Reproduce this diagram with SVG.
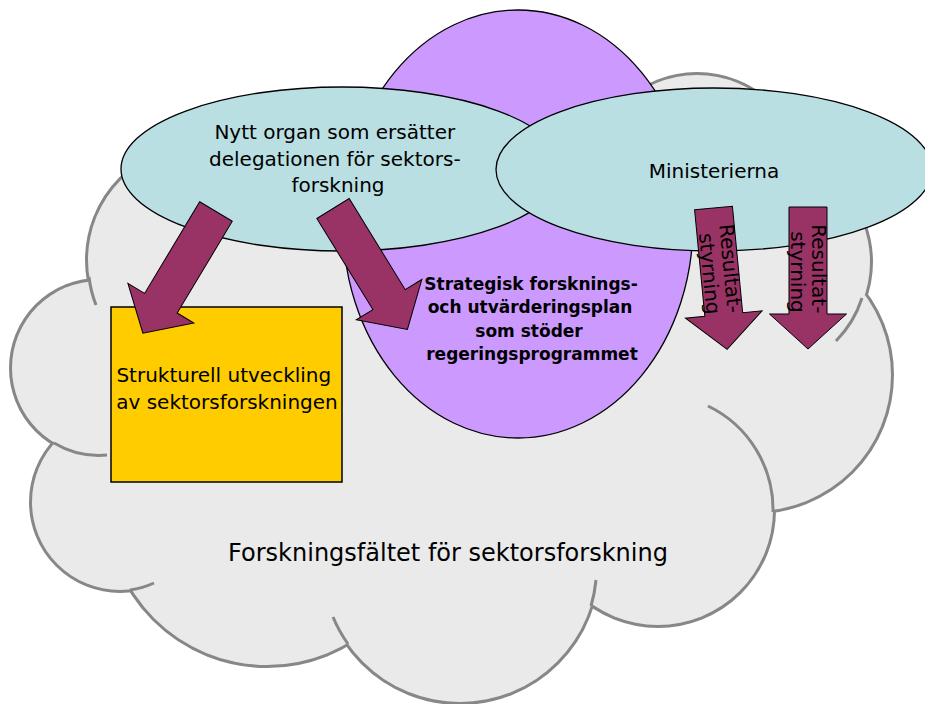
<svg xmlns="http://www.w3.org/2000/svg" width="925" height="704" viewBox="0 0 925 704">
<defs>
<style>
.t{font-family:"DejaVu Sans","Liberation Sans",sans-serif;fill:#000}
.b{font-weight:bold}
.cs{fill:#EAEAEA;stroke:#878787;stroke-width:6}
.cf{fill:#EAEAEA}
.tail{fill:none;stroke:#878787;stroke-width:3}
.el{stroke:#000;stroke-width:1.3}
.arr{fill:#993366;stroke:#000;stroke-width:1}
</style>
<path id="arrow" class="arr" d="M-19,0 L19,0 L19,107 L38.5,107 L0,142 L-38.5,107 L-19,107 Z"/>
</defs>
<rect width="925" height="704" fill="#fff"/>
<g id="cloud">
<circle class="cs" cx="202" cy="260" r="114"/>
<circle class="cs" cx="99" cy="368" r="87"/>
<circle class="cs" cx="120" cy="502" r="88"/>
<circle class="cs" cx="267" cy="506" r="159"/>
<circle class="cs" cx="460" cy="565" r="137"/>
<circle class="cs" cx="658" cy="510" r="115"/>
<circle class="cs" cx="755" cy="375" r="136"/>
<circle class="cs" cx="762" cy="262" r="108"/>
<circle class="cs" cx="697" cy="181" r="106"/>
<circle class="cf" cx="202" cy="260" r="114"/>
<circle class="cf" cx="99" cy="368" r="87"/>
<circle class="cf" cx="120" cy="502" r="88"/>
<circle class="cf" cx="267" cy="506" r="159"/>
<circle class="cf" cx="460" cy="565" r="137"/>
<circle class="cf" cx="658" cy="510" r="115"/>
<circle class="cf" cx="755" cy="375" r="136"/>
<circle class="cf" cx="762" cy="262" r="108"/>
<circle class="cf" cx="697" cy="181" r="106"/>
<polygon class="cf" points="202,260 99,368 120,502 267,506 460,565 658,510 755,375 762,262 697,181 520,175"/>
<path class="tail" d="M89,277 A114 114 0 0 0 96,305"/>
<path class="tail" d="M54,443 A87 87 0 0 0 107,455"/>
<path class="tail" d="M130,590 A88 88 0 0 0 154,583"/>
<path class="tail" d="M333,617 A137 137 0 0 0 348,644"/>
<path class="tail" d="M591,606 A137 137 0 0 0 596,580"/>
<path class="tail" d="M708,406 A115 115 0 0 1 773,512"/>
<path class="tail" d="M862,298 A108 108 0 0 1 836,341"/>
<text class="t" x="448" y="561" font-size="24" text-anchor="middle">Forskningsfältet för sektorsforskning</text>
</g>
<g id="plan">
<ellipse class="el" cx="518" cy="224" rx="175" ry="214" fill="#CC99FF"/>
<text class="t b" font-size="17" text-anchor="middle">
<tspan x="534" y="289.5">Strategisk forsknings-</tspan>
<tspan x="533" y="313">och utvärderingsplan</tspan>
<tspan x="532" y="336.5">som stöder</tspan>
<tspan x="532" y="360">regeringsprogrammet</tspan>
</text>
</g>
<g id="organ">
<ellipse class="el" cx="342" cy="169" rx="221" ry="82" fill="#B9DFE2"/>
<text class="t" font-size="20" text-anchor="middle">
<tspan x="338" y="139">Nytt organ som ersätter</tspan>
<tspan x="338" y="166">delegationen för sektors-</tspan>
<tspan x="338" y="192">forskning</tspan>
</text>
</g>
<g id="ministerierna">
<ellipse class="el" cx="714" cy="169.5" rx="218" ry="81.5" fill="#B9DFE2"/>
<text class="t" x="714" y="178" font-size="20" text-anchor="middle">Ministerierna</text>
</g>
<g id="strukturell">
<rect x="111" y="307" width="231" height="175" fill="#FFCC00" stroke="#000" stroke-width="1.5"/>
<text class="t" font-size="20" text-anchor="middle">
<tspan x="227" y="382">Strukturell utveckling</tspan>
<tspan x="227" y="409">av sektorsforskningen</tspan>
</text>
</g>
<g id="connectors">
<use href="#arrow" transform="translate(216,211.5) rotate(31)"/>
<use href="#arrow" transform="translate(333,208.5) rotate(-31.6)"/>
<g transform="translate(713.5,208) rotate(-5.5)">
<use href="#arrow"/>
<text class="t" font-size="20" text-anchor="middle" transform="rotate(90)">
<tspan x="65" y="-4">Resultat-</tspan>
<tspan x="65" y="17">styrning</tspan>
</text>
</g>
<g transform="translate(808,207)">
<use href="#arrow"/>
<text class="t" font-size="20" text-anchor="middle" transform="rotate(90)">
<tspan x="65" y="-4">Resultat-</tspan>
<tspan x="65" y="17">styrning</tspan>
</text>
</g>
</g>
</svg>
